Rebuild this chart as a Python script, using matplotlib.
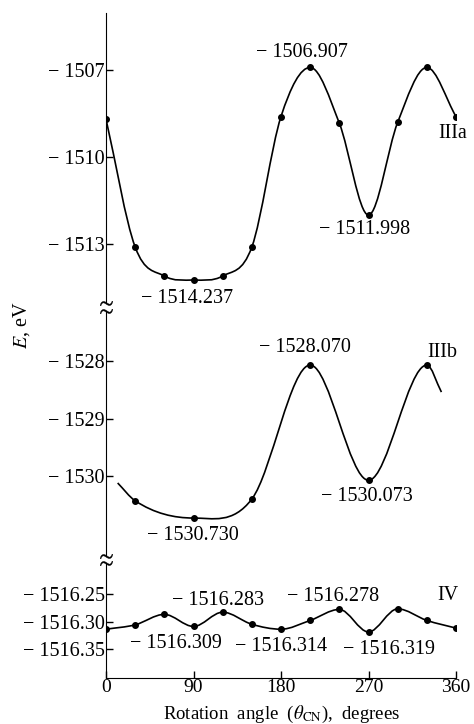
import matplotlib
matplotlib.use("Agg")
import matplotlib.pyplot as plt
import numpy as np
from matplotlib.path import Path
from matplotlib.patches import PathPatch

plt.rcParams['font.family'] = ['Liberation Serif', 'DejaVu Serif']
plt.rcParams['mathtext.fontset'] = 'stix'

# datos
angulos = [0, 30, 60, 90, 120, 150, 180, 210, 240, 270, 300, 330, 360]
e_iiia = [-1508.69, -1513.10, -1514.10, -1514.237, -1514.10, -1513.10, -1508.60,
          -1506.907, -1508.83, -1511.998, -1508.80, -1506.907, -1508.60]

angulos_iiib = [30, 90, 150, 210, 270, 330]
e_iiib = [-1530.43, -1530.730, -1530.40, -1528.070, -1530.073, -1528.070]
# extremos de la curva IIIb (sin punto)
inicio_iiib = (12, -1530.12)
fin_iiib = (345, -1528.54)

e_iv = [-1516.314, -1516.306, -1516.287, -1516.309, -1516.283, -1516.305, -1516.314,
        -1516.298, -1516.278, -1516.319, -1516.277, -1516.298, -1516.312]

xticks = [0, 90, 180, 270, 360]
yticks_iiia = [-1507, -1510, -1513]
yticks_iiib = [-1528, -1529, -1530]
yticks_iv = [-1516.25, -1516.30, -1516.35]

FS = 14.5


def curva_suave(xs, ys):
    # Hermite cubico (pendiente cero en los extremos locales) como Bezier
    x = np.asarray(xs, float)
    y = np.asarray(ys, float)
    s = np.diff(y) / np.diff(x)
    m = np.zeros(len(x))
    m[0], m[-1] = s[0], s[-1]
    for i in range(1, len(x) - 1):
        if s[i - 1] * s[i] > 0:
            m[i] = (s[i - 1] + s[i]) / 2
    verts = [(x[0], y[0])]
    codes = [Path.MOVETO]
    for i in range(len(x) - 1):
        h = x[i + 1] - x[i]
        verts += [(x[i] + h / 3, y[i] + m[i] * h / 3),
                  (x[i + 1] - h / 3, y[i + 1] - m[i + 1] * h / 3),
                  (x[i + 1], y[i + 1])]
        codes += [Path.CURVE4] * 3
    return Path(verts, codes)


def dibujar(ax, xs, ys, px, py):
    ax.add_patch(PathPatch(curva_suave(xs, ys), fill=False, lw=1.2, ec='black'))
    ax.plot(px, py, 'o', color='black', ms=4)


def menos(v, fmt):
    return ('\u2212 ' + fmt.format(abs(v))) if v < 0 else fmt.format(v)


def tilde(ax, y):
    ax.plot([0], [y], marker='$\\sim$', ms=9, color='black', transform=ax.transAxes,
            clip_on=False, mew=0.3)


fig = plt.figure(figsize=(4.74, 7.24), dpi=100)
izq, ancho = 106 / 474, 350 / 474
ax1 = fig.add_axes([izq, 1 - 303 / 724, ancho, 290 / 724])
ax2 = fig.add_axes([izq, 1 - 556 / 724, ancho, 245 / 724])
ax3 = fig.add_axes([izq, 1 - 678 / 724, ancho, 115 / 724])

for ax in (ax1, ax2, ax3):
    ax.set_xlim(0, 360)
    ax.spines['top'].set_visible(False)
    ax.spines['right'].set_visible(False)
    ax.tick_params(direction='in', length=5, width=1, labelsize=FS, pad=1)
for ax in (ax1, ax2):
    ax.spines['bottom'].set_visible(False)
    ax.set_xticks([])

# IIIa
dibujar(ax1, angulos, e_iiia, angulos, e_iiia)
ax1.set_ylim(-1515.03, -1505.03)
ax1.set_yticks(yticks_iiia)
ax1.set_yticklabels([menos(v, '{:.0f}') for v in yticks_iiia])
ax1.text(201.6, -1506.38, menos(e_iiia[7], '{:.3f}'), ha='center', va='center', fontsize=FS)
ax1.text(266, -1512.48, menos(e_iiia[9], '{:.3f}'), ha='center', va='center', fontsize=FS)
ax1.text(83, -1514.86, menos(e_iiia[3], '{:.3f}'), ha='center', va='center', fontsize=FS)
ax1.text(341.5, -1509.17, 'IIIa', ha='left', va='center', fontsize=FS, clip_on=False)

# IIIb
cx = [inicio_iiib[0]] + angulos_iiib + [fin_iiib[0]]
cy = [inicio_iiib[1]] + e_iiib + [fin_iiib[1]]
dibujar(ax2, cx, cy, angulos_iiib, e_iiib)
ax2.set_ylim(-1531.39, -1527.13)
ax2.set_yticks(yticks_iiib)
ax2.set_yticklabels([menos(v, '{:.0f}') for v in yticks_iiib])
ax2.text(204.7, -1527.77, menos(e_iiib[3], '{:.3f}'), ha='center', va='center', fontsize=FS)
ax2.text(268.5, -1530.35, menos(e_iiib[4], '{:.3f}'), ha='center', va='center', fontsize=FS)
ax2.text(89.5, -1531.04, menos(e_iiib[1], '{:.3f}'), ha='center', va='center', fontsize=FS)
ax2.text(331, -1527.86, 'IIIb', ha='left', va='center', fontsize=FS, clip_on=False)

# IV
dibujar(ax3, angulos, e_iv, angulos, e_iv)
ax3.set_ylim(-1516.4027, -1516.1936)
ax3.set_yticks(yticks_iv)
ax3.set_yticklabels([menos(v, '{:.2f}') for v in yticks_iv])
ax3.set_xticks(xticks)
ax3.set_xticklabels([str(v) for v in xticks])
ax3.tick_params(axis='x', pad=1, labelsize=14)
for xv, yv, i in [(115, -1516.261, 4), (233.5, -1516.254, 8), (72, -1516.340, 3),
                  (180, -1516.345, 6), (291, -1516.351, 9)]:
    ax3.text(xv, yv, menos(e_iv[i], '{:.3f}'), ha='center', va='center', fontsize=FS)
ax3.text(340.5, -1516.252, 'IV', ha='left', va='center', fontsize=FS, clip_on=False)
fig.text(282 / 474, 1 - 719 / 724, 'Rotation  angle  ($\\theta_{\\rm CN}$),  degrees',
         ha='center', va='baseline', fontsize=13.5)

# cortes del eje
tilde(ax1, 0)
tilde(ax2, 1)
tilde(ax2, 0)
tilde(ax3, 1)

fig.text(22 / 474, 1 - 325 / 724, '$E$, eV', rotation=90, ha='center', va='center', fontsize=FS)

fig.savefig('out.png', dpi=100)
